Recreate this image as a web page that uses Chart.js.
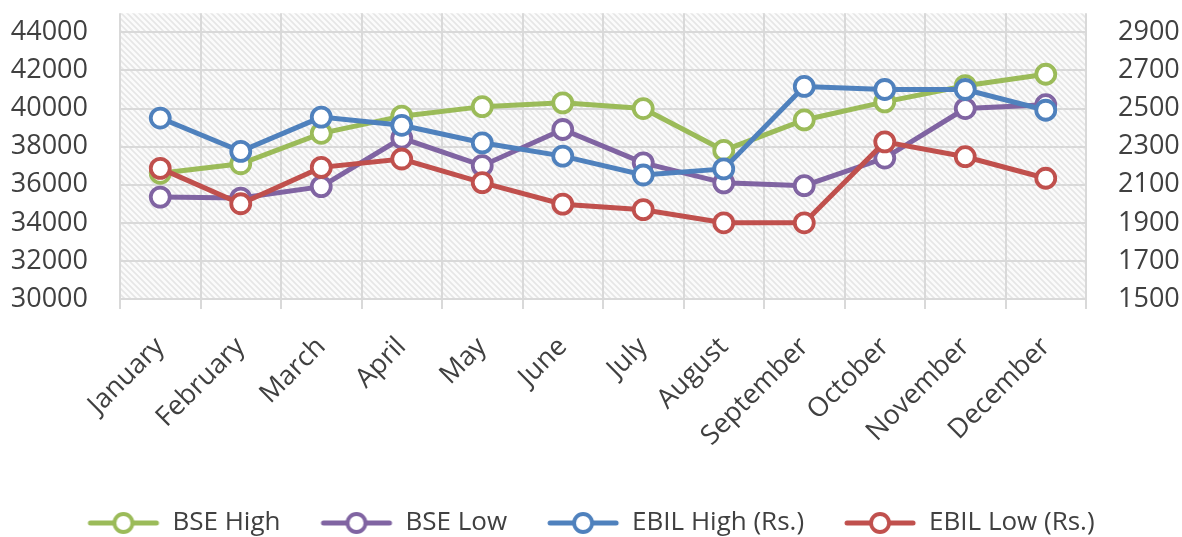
<!DOCTYPE html>
<html>
<head>
<meta charset="utf-8">
<script src="https://cdn.jsdelivr.net/npm/chart.js@4/dist/chart.umd.min.js"></script>
<style>
  html, body { margin: 0; padding: 0; background: #fff; }
  #wrap { width: 1182px; height: 537px; }
</style>
</head>
<body>
<div id="wrap"><canvas id="stockChart" width="1182" height="537"></canvas></div>
<script>
const months = ["January", "February", "March", "April", "May", "June", "July",
  "August", "September", "October", "November", "December"];
const bseHigh = [36600, 37100, 38700, 39600, 40100, 40300, 40000, 37800, 39400, 40350, 41200, 41800];
const bseLow = [35350, 35300, 35900, 38450, 37000, 38900, 37150, 36100, 35950, 37400, 40000, 40200];
const ebilHigh = [2450, 2275, 2455, 2412, 2320, 2250, 2151, 2183, 2616, 2600, 2600, 2491];
const ebilLow = [2186, 2000, 2191, 2235, 2111, 1998, 1969, 1900, 1900, 2325, 2247, 2134];
const leftTicks = [30000, 32000, 34000, 36000, 38000, 40000, 42000, 44000];
const rightTicks = [1500, 1700, 1900, 2100, 2300, 2500, 2700, 2900];

const GREEN = "#9bbb59";
const PURPLE = "#8064a2";
const BLUE = "#4f81bd";
const RED = "#c0504d";
const TEXT = "#404040";
const GRID = "#d9d9d9";

// legend icon: short line with a hollow marker (content sits right of centre)
function legendIcon(color) {
  const c = document.createElement("canvas");
  c.width = 84;
  c.height = 26;
  const g = c.getContext("2d");
  g.strokeStyle = color;
  g.lineWidth = 5;
  g.lineCap = "round";
  g.beginPath();
  g.moveTo(9, 13);
  g.lineTo(75, 13);
  g.stroke();
  g.beginPath();
  g.arc(42, 13, 9, 0, Math.PI * 2);
  g.fillStyle = "#fff";
  g.fill();
  g.lineWidth = 3.8;
  g.stroke();
  return c;
}
const icons = [legendIcon(GREEN), legendIcon(PURPLE), legendIcon(BLUE), legendIcon(RED)];

// hatched plot-area fill
function hatch(ctx) {
  const t = document.createElement("canvas");
  t.width = 6;
  t.height = 6;
  const g = t.getContext("2d");
  g.fillStyle = "#fbfbfb";
  g.fillRect(0, 0, 6, 6);
  g.strokeStyle = "#e6e6e6";
  g.lineWidth = 1.6;
  g.beginPath();
  g.moveTo(-2, -2);
  g.lineTo(8, 8);
  g.moveTo(-2, 4);
  g.lineTo(2, 8);
  g.moveTo(4, -2);
  g.lineTo(8, 2);
  g.stroke();
  return ctx.createPattern(t, "repeat");
}

const plotFill = {
  id: "plotFill",
  beforeDraw(chart) {
    const { ctx, chartArea: a } = chart;
    ctx.save();
    ctx.fillStyle = hatch(ctx);
    ctx.fillRect(a.left, a.top, a.right - a.left, a.bottom - a.top);
    ctx.restore();
  }
};

function series(label, data, color, axis, order) {
  return {
    label,
    data,
    yAxisID: axis,
    order,
    borderColor: color,
    backgroundColor: color,
    borderWidth: 5,
    tension: 0,
    pointRadius: 9.5,
    pointHoverRadius: 9.5,
    pointBorderWidth: 3.8,
    pointBorderColor: color,
    pointBackgroundColor: "#fff"
  };
}

const tickFont = { family: "'Open Sans', sans-serif", size: 27 };

new Chart(document.getElementById("stockChart"), {
  type: "line",
  data: {
    labels: months,
    datasets: [
      series("BSE High", bseHigh, GREEN, "y", 4),
      series("BSE Low", bseLow, PURPLE, "y", 3),
      series("EBIL High (Rs.)", ebilHigh, BLUE, "y1", 2),
      series("EBIL Low (Rs.)", ebilLow, RED, "y1", 1)
    ]
  },
  plugins: [plotFill],
  options: {
    responsive: false,
    animation: false,
    layout: { padding: { top: 11, bottom: -9, left: 0, right: 0 } },
    plugins: {
      tooltip: { enabled: false },
      legend: {
        position: "bottom",
        labels: {
          usePointStyle: true,
          pointStyleWidth: 72,
          padding: 40,
          color: TEXT,
          font: { family: "'Open Sans', sans-serif", size: 26 },
          generateLabels(chart) {
            const items = Chart.defaults.plugins.legend.labels.generateLabels(chart);
            items.forEach((it) => { it.pointStyle = icons[it.datasetIndex]; });
            return items.sort((a, b) => a.datasetIndex - b.datasetIndex);
          }
        }
      }
    },
    scales: {
      x: {
        offset: true,
        grid: { offset: true, color: GRID, lineWidth: 2, tickLength: 10, tickColor: GRID },
        border: { display: false },
        ticks: { color: TEXT, font: tickFont, minRotation: 45, maxRotation: 45, padding: 22, autoSkip: false },
        afterFit(axis) {
          axis.height = 171;
          axis.paddingLeft = 0;
          axis.paddingRight = 0;
        }
      },
      y: {
        position: "left",
        min: 30000,
        max: 45000,
        ticks: { color: TEXT, font: tickFont, padding: 32, callback: (v) => String(v) },
        grid: { color: GRID, lineWidth: 2, drawTicks: false },
        border: { display: false },
        afterBuildTicks(axis) {
          axis.ticks = leftTicks.map((v) => ({ value: v }));
        },
        afterFit(axis) {
          axis.width = 120;
          axis.paddingTop = 0;
          axis.paddingBottom = 0;
        }
      },
      y1: {
        position: "right",
        min: 1500,
        max: 3000,
        ticks: { color: TEXT, font: tickFont, padding: 32, callback: (v) => String(v) },
        grid: { drawOnChartArea: false, drawTicks: false },
        border: { display: false },
        afterBuildTicks(axis) {
          axis.ticks = rightTicks.map((v) => ({ value: v }));
        },
        afterFit(axis) {
          axis.width = 96;
          axis.paddingTop = 0;
          axis.paddingBottom = 0;
        }
      }
    }
  }
});
</script>
</body>
</html>
